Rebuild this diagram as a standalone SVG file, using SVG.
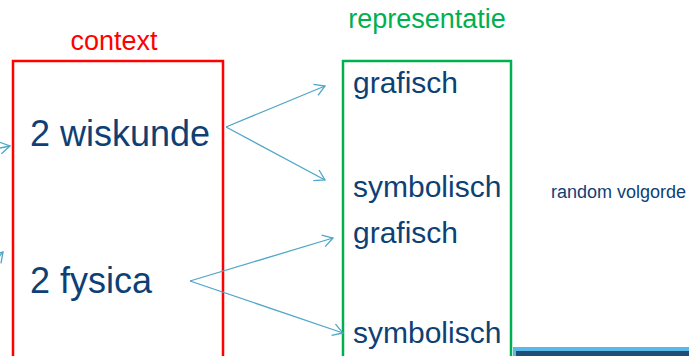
<svg xmlns="http://www.w3.org/2000/svg" width="690" height="356" viewBox="0 0 690 356">
<defs>
<style>
.t{font-family:"Liberation Sans",Arial,sans-serif;fill:#0e3f75}
.c{stroke:#4fa6c8;stroke-width:1.3;fill:none}
</style>
<marker id="ah" markerWidth="14" markerHeight="14" refX="12" refY="7" orient="auto" markerUnits="userSpaceOnUse">
<path d="M2,1 L12,7 L2,13" fill="none" stroke="#4fa6c8" stroke-width="1.3"/>
</marker>
</defs>
<rect width="690" height="356" fill="#fff"/>
<g id="context">
<text x="114" y="50" text-anchor="middle" font-family="Liberation Sans,Arial,sans-serif" font-size="27" fill="#ff0000">context</text>
<rect x="13" y="61" width="210" height="300" fill="none" stroke="#ff0000" stroke-width="2.5"/>
<text class="t" x="30" y="146" font-size="36">2 wiskunde</text>
<text class="t" x="30" y="293" font-size="36">2 fysica</text>
</g>
<g id="representatie">
<text x="427" y="28" text-anchor="middle" font-family="Liberation Sans,Arial,sans-serif" font-size="27" fill="#00b050">representatie</text>
<rect x="343" y="61" width="168" height="300" fill="none" stroke="#00b050" stroke-width="2.5"/>
<text class="t" x="353" y="93" font-size="30">grafisch</text>
<text class="t" x="353" y="197" font-size="30">symbolisch</text>
<text class="t" x="353" y="243" font-size="30">grafisch</text>
<text class="t" x="353" y="343" font-size="30">symbolisch</text>
</g>
<g id="note">
<text class="t" x="551" y="198" font-size="18">random volgorde</text>
</g>
<g id="bar">
<rect x="513" y="347" width="176" height="9" fill="#5bb9e9"/>
<rect x="516" y="351" width="173" height="5" fill="#1f4e79"/>
</g>
<g id="connectors">
<line class="c" x1="226" y1="127" x2="325" y2="86" marker-end="url(#ah)"/>
<line class="c" x1="226" y1="127" x2="325" y2="180" marker-end="url(#ah)"/>
<line class="c" x1="190" y1="281" x2="333" y2="238" marker-end="url(#ah)"/>
<line class="c" x1="190" y1="281" x2="343" y2="333" marker-end="url(#ah)"/>
<line class="c" x1="-10" y1="150" x2="10" y2="146" marker-end="url(#ah)"/>
<line class="c" x1="-30" y1="290" x2="3" y2="252" marker-end="url(#ah)"/>
</g>
</svg>
